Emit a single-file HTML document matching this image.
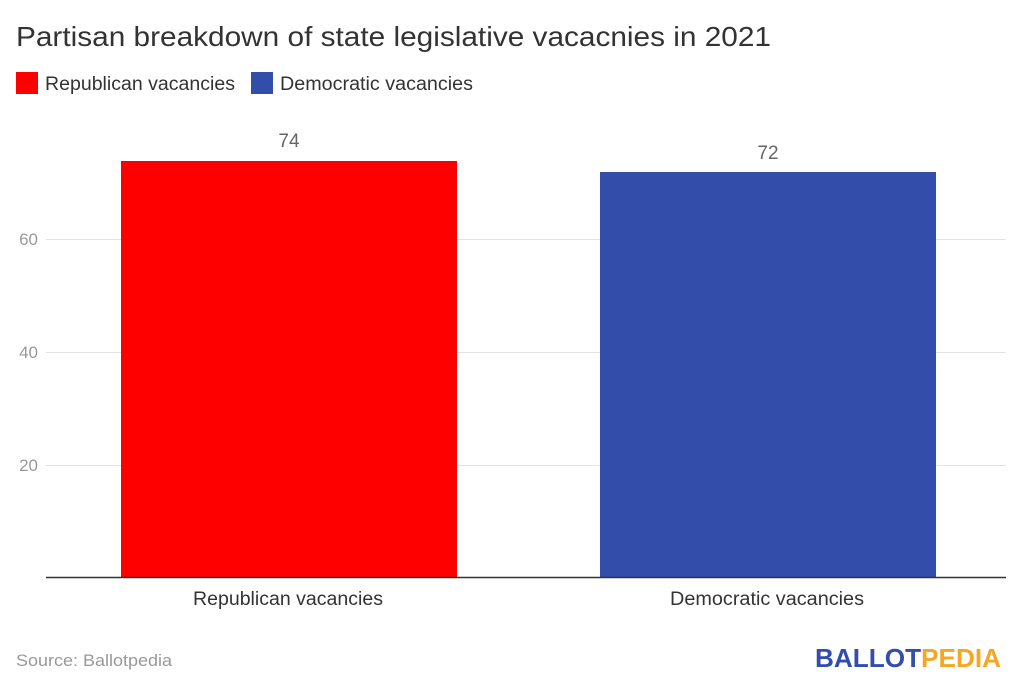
<!DOCTYPE html>
<html><head><meta charset="utf-8"><style>
body{margin:0;background:#fff;}
svg{display:block;font-family:"Liberation Sans",sans-serif;}
</style></head><body>
<svg width="1024" height="694" viewBox="0 0 1024 694">
<text x="16" y="46" font-size="28" fill="#333" textLength="755" lengthAdjust="spacingAndGlyphs">Partisan breakdown of state legislative vacacnies in 2021</text>
<rect x="16" y="72" width="22" height="22" fill="#ff0000"/>
<text x="45" y="90" font-size="19" fill="#333" textLength="190" lengthAdjust="spacingAndGlyphs">Republican vacancies</text>
<rect x="251" y="72" width="22" height="22" fill="#334daa"/>
<text x="280" y="90" font-size="19" fill="#333" textLength="193" lengthAdjust="spacingAndGlyphs">Democratic vacancies</text>
<g stroke="#e3e3e3" stroke-width="1">
<line x1="46" y1="239.5" x2="1006" y2="239.5"/>
<line x1="46" y1="352.5" x2="1006" y2="352.5"/>
<line x1="46" y1="465.5" x2="1006" y2="465.5"/>
</g>
<g font-size="17" fill="#999" text-anchor="end">
<text x="38" y="245">60</text>
<text x="38" y="358">40</text>
<text x="38" y="471">20</text>
</g>
<rect x="121" y="161" width="336" height="416" fill="#ff0000"/>
<rect x="600" y="172" width="336" height="405" fill="#334daa"/>
<line x1="46" y1="577.5" x2="1006" y2="577.5" stroke="#333" stroke-width="1.5"/>
<g font-size="19" fill="#666" text-anchor="middle">
<text x="289" y="147">74</text>
<text x="768" y="159">72</text>
</g>
<g font-size="19" fill="#333">
<text x="193" y="605" textLength="190" lengthAdjust="spacingAndGlyphs">Republican vacancies</text>
<text x="670" y="605" textLength="194" lengthAdjust="spacingAndGlyphs">Democratic vacancies</text>
</g>
<text x="16" y="666" font-size="17" fill="#999" textLength="156" lengthAdjust="spacingAndGlyphs">Source: Ballotpedia</text>
<text x="815" y="667" font-size="26" font-weight="bold" textLength="186" lengthAdjust="spacingAndGlyphs"><tspan fill="#334daa">BALLOT</tspan><tspan fill="#f5a623">PEDIA</tspan></text>
</svg>
</body></html>
